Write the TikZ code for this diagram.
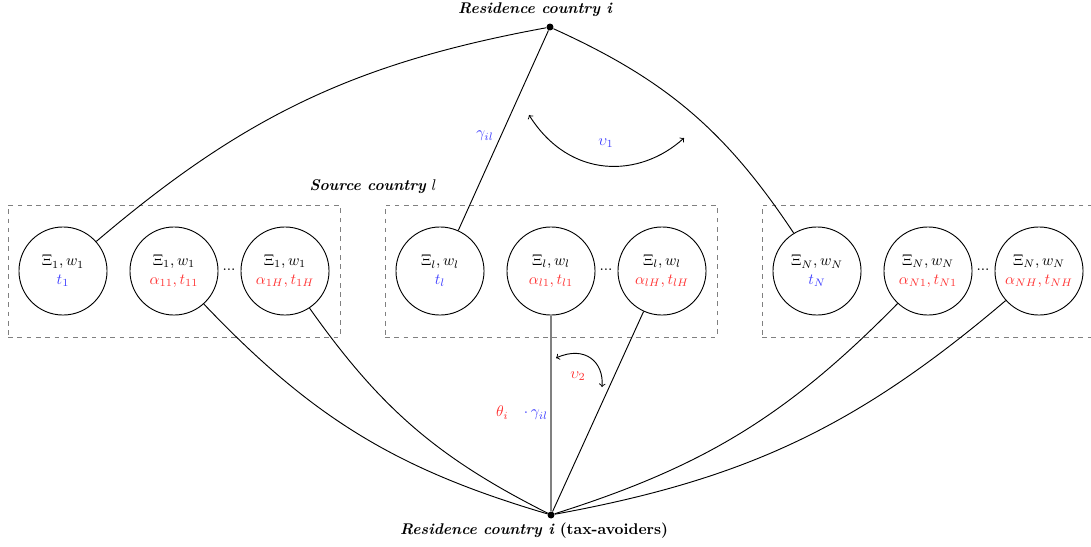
\documentclass[tikz,border=0pt]{standalone}
\usepackage{xcolor}
\definecolor{myblue}{RGB}{64,64,255}
\definecolor{myred}{RGB}{255,51,51}
\begin{document}
\begin{tikzpicture}[x=0.645pt,y=-0.645pt,
  agent/.style={circle,draw,line width=0.6pt,minimum size=56.8pt,inner sep=0pt,align=center},
  dotnode/.style={circle,fill,inner sep=0pt,minimum size=4.5pt},
  grp/.style={draw=gray,dashed,line width=0.5pt,minimum width=214.1pt,minimum height=85.1pt,inner sep=0pt},
  link/.style={line width=0.6pt},
  turn/.style={line width=0.6pt,<->},
  ttl/.style={font=\bfseries\itshape}]
\useasboundingbox (0,0) rectangle (1091,546);

% groups
\node[grp] (g1) at (174,271) {};
\node[grp] (g2) at (551,271) {};
\node[grp] (g3) at (928,271) {};

% residence nodes
\node[dotnode] (top) at (550,27) {};
\node[ttl] (toplab) at (535,10) {Residence country i};
\node[dotnode] (bot) at (551,515) {};
\node (botlab) at (534,531) {\textbf{\textit{Residence country i}} \textbf{(tax-avoiders)}};
\node (srclab) at (373,187) {\textbf{\textit{Source country}} $l$};

% agents
\node[agent] (c1) at (63,271) {$\Xi_1, w_1$\\ \textcolor{myblue}{$t_1$}};
\node[agent] (c2) at (174,271) {$\Xi_1, w_1$\\ \textcolor{myred}{$\alpha_{11}, t_{11}$}};
\node[agent] (c3) at (285,271) {$\Xi_1, w_1$\\ \textcolor{myred}{$\alpha_{1H}, t_{1H}$}};
\node[agent] (c4) at (440,271) {$\Xi_l, w_l$\\ \textcolor{myblue}{$t_l$}};
\node[agent] (c5) at (551,271) {$\Xi_l, w_l$\\ \textcolor{myred}{$\alpha_{l1}, t_{l1}$}};
\node[agent] (c6) at (662,271) {$\Xi_l, w_l$\\ \textcolor{myred}{$\alpha_{lH}, t_{lH}$}};
\node[agent] (c7) at (817,271) {$\Xi_N, w_N$\\ \textcolor{myblue}{$t_N$}};
\node[agent] (c8) at (928,271) {$\Xi_N, w_N$\\ \textcolor{myred}{$\alpha_{N1}, t_{N1}$}};
\node[agent] (c9) at (1039,271) {$\Xi_N, w_N$\\ \textcolor{myred}{$\alpha_{NH}, t_{NH}$}};

\node (d1) at (229,270) {...};
\node (d2) at (606,270) {...};
\node (d3) at (983,270) {...};

% links to top
\draw[link] (c1) to[bend left=15] (top);
\draw[link] (top) -- (c4);
\draw[link] (top) to[bend left=16] (c7);

% links to bottom
\draw[link] (bot) to[bend left=15] (c2);
\draw[link] (bot) to[bend left=14] (c3);
\draw[gray,line width=0.9pt] (bot) -- (c5);
\draw[link] (bot) -- (c6);
\draw[link] (bot) to[bend right=14] (c8);
\draw[link] (bot) to[bend right=15] (c9);

% rotation arrows
\coordinate (u1a) at (529,115);
\coordinate (u1b) at (684,138);
\draw[turn] (u1a) .. controls (570,180) and (640,178) .. (u1b);
\node[text=myblue] (u1lab) at (606,143) {$\upsilon_1$};
\coordinate (u2a) at (556,358);
\coordinate (u2b) at (602,387);
\draw[turn] (u2a) .. controls (585,345) and (604,362) .. (u2b);
\node[text=myred] (u2lab) at (578,376) {$\upsilon_2$};

% labels
\node[text=myblue] (glab) at (485,136) {$\gamma_{il}$};
\node (tlab) at (522,413) {\textcolor{myred}{$\theta_i$}\quad\textcolor{myblue}{$\cdot\,\gamma_{il}$}};
\end{tikzpicture}
\end{document}
